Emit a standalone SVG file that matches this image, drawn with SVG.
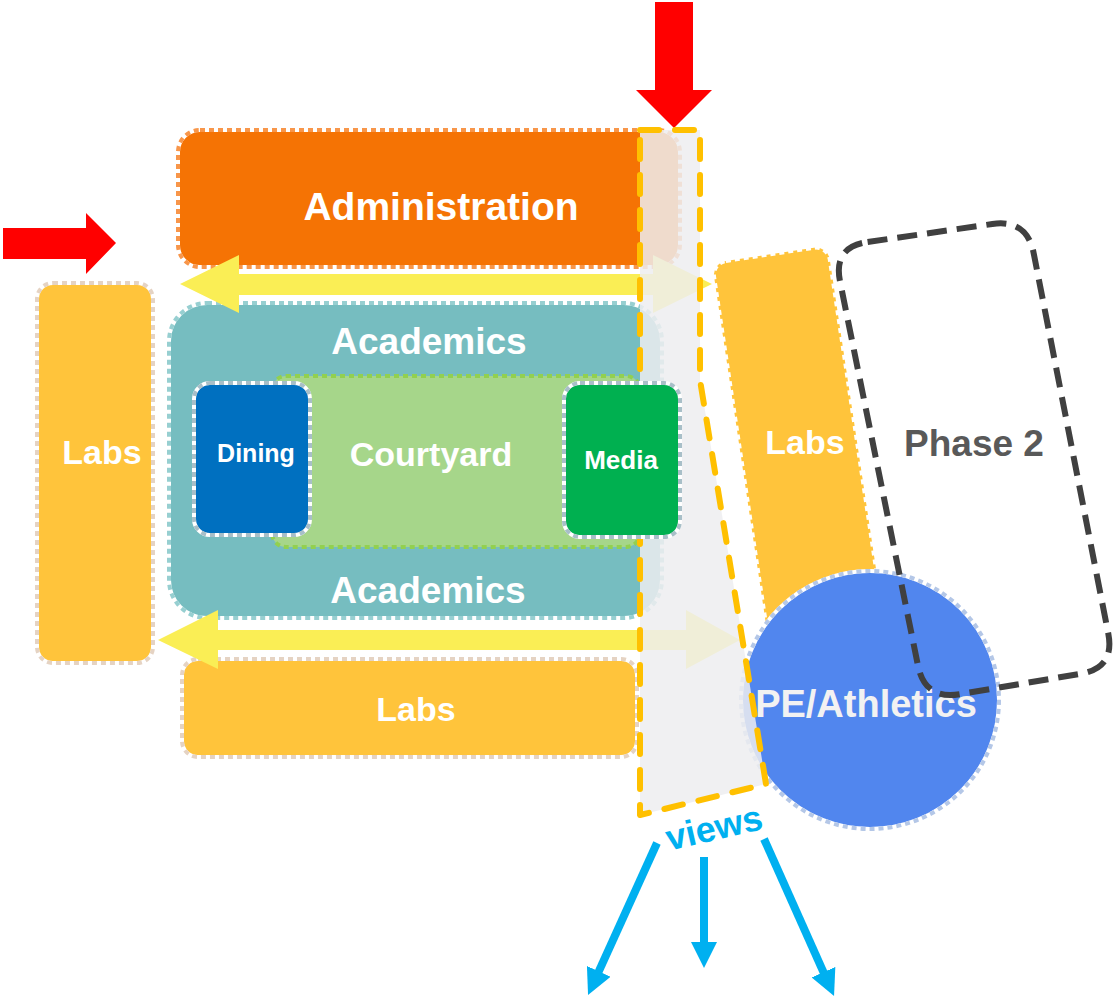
<svg xmlns="http://www.w3.org/2000/svg" width="1114" height="1000" viewBox="0 0 1114 1000">
<style>
.lbl{font-family:"Liberation Sans",Arial,sans-serif;font-weight:bold;fill:#fff;text-anchor:middle}
.base{stroke:#fff;stroke-width:4}
.dot{fill:none;stroke-width:4;stroke-dasharray:5 4}
.labs{fill:#FFC43B}
.yarrow{fill:#FAEE55}
.red{fill:#FF0000}
.view{stroke:#00B0F0;stroke-width:8;fill:none;marker-end:url(#vh)}
</style>
<defs>
<marker id="vh" markerUnits="userSpaceOnUse" markerWidth="26" markerHeight="26" refX="6" refY="13" orient="auto" viewBox="0 0 26 26">
<path d="M0,0 L26,13 L0,26 Z" fill="#00B0F0"/>
</marker>
</defs>
<rect width="1114" height="1000" fill="#fff"/>
<g id="nodes">
<g id="administration">
<rect class="base" x="178" y="130" width="502" height="137" rx="22" fill="#F57304"/>
<rect class="dot" x="178" y="130" width="502" height="137" rx="22" stroke="#F8964A"/>
<text class="lbl" x="441" y="220" font-size="39">Administration</text>
</g>
<g id="labs-left">
<rect class="base labs" x="37" y="283" width="116" height="380" rx="16"/>
<rect class="dot" x="37" y="283" width="116" height="380" rx="16" stroke="#E5D3C3"/>
<text class="lbl" x="102" y="464" font-size="34">Labs</text>
</g>
<g id="academics">
<rect class="base" x="169" y="303" width="493" height="315" rx="38" fill="#76BDC0"/>
<rect class="dot" x="169" y="303" width="493" height="315" rx="38" stroke="#97CFD1"/>
<text class="lbl" x="429" y="354" font-size="37">Academics</text>
<text class="lbl" x="428" y="603" font-size="37">Academics</text>
</g>
<g id="courtyard">
<rect x="272" y="376" width="368" height="171" rx="14" fill="#A6D68A"/>
<rect class="dot" x="272" y="376" width="368" height="171" rx="14" stroke="#92D050"/>
<text class="lbl" x="431" y="466" font-size="34">Courtyard</text>
</g>
<g id="dining">
<rect class="base" x="194" y="383" width="116" height="152" rx="16" fill="#0070C0"/>
<rect class="dot" x="194" y="383" width="116" height="152" rx="16" stroke="#A8BFC8"/>
<text class="lbl" x="256" y="462" font-size="25">Dining</text>
</g>
<g id="labs-bottom">
<rect class="base labs" x="182" y="659" width="455" height="98" rx="16"/>
<rect class="dot" x="182" y="659" width="455" height="98" rx="16" stroke="#E5D3C3"/>
<text class="lbl" x="416" y="721" font-size="34">Labs</text>
</g>
<g id="labs-right">
<rect class="labs" x="712" y="263" width="117" height="380" rx="14" transform="rotate(-8.5 712 263)"/>
<rect class="dot" x="712" y="263" width="117" height="380" rx="14" stroke="#fff" transform="rotate(-8.5 712 263)"/>
<text class="lbl" x="805" y="454" font-size="34">Labs</text>
</g>
<g id="pe-athletics">
<circle class="base" cx="870" cy="700" r="129" fill="#5186EE"/>
<circle class="dot" cx="870" cy="700" r="129" stroke="#B4C7E7"/>
<text class="lbl" x="866" y="717" font-size="38" style="fill:#F2F2F2">PE/Athletics</text>
</g>
</g>
<g id="connectors">
<path class="yarrow" d="M180,284 L239,255 V274 H653 V255 L712,284 L653,313 V295 H239 V313 Z"/>
<path class="yarrow" d="M158,640 L218,610 V630 H686 V610 L740,640 L686,669 V650 H218 V669 Z"/>
<path class="red" d="M655,2 H693 V90 H712 L674,128 L636,90 H655 Z"/>
<path class="red" d="M3,228 H86 V213 L116,243 L86,274 V259 H3 Z"/>
<line class="view" x1="657" y1="843" x2="596.3" y2="976.8"/>
<line class="view" x1="704" y1="857" x2="704" y2="948"/>
<line class="view" x1="764" y1="839" x2="825.9" y2="977.7"/>
</g>
<g id="view-corridor">
<path d="M640,130 L700,130 L700,380 L766,784 L640,815 Z" fill="#EDEDF0" fill-opacity="0.85" stroke="#FFC000" stroke-width="6" stroke-dasharray="19 16" stroke-linecap="round" stroke-linejoin="round"/>
</g>
<g id="media">
<rect class="base" x="564" y="383" width="116" height="154" rx="16" fill="#00B050"/>
<rect class="dot" x="564" y="383" width="116" height="154" rx="16" stroke="#A8BFC8"/>
<text class="lbl" x="621" y="469" font-size="26">Media</text>
</g>
<g id="phase-2">
<path d="M867.6,242 L992.4,224 Q1027,219 1033.7,253.3 L1108.3,633.7 Q1115,668 1080.5,673.8 L959.5,694.2 Q925,700 918,665.7 L840,281.3 Q833,247 867.6,242 Z" fill="none" stroke="#404040" stroke-width="6" stroke-dasharray="20 10"/>
<text class="lbl" x="974" y="456" font-size="37" style="fill:#595959">Phase 2</text>
</g>
<g id="views-label">
<text class="lbl" x="714" y="840" font-size="36" style="fill:#00B0F0" transform="rotate(-13 714 828)">views</text>
</g>
</svg>
